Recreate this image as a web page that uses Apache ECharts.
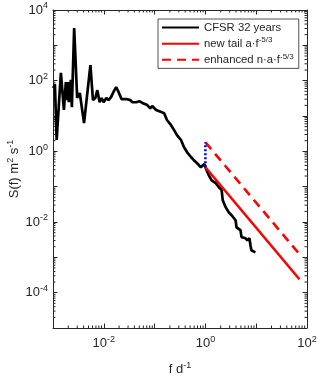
<!DOCTYPE html>
<html>
<head>
<meta charset="utf-8">
<script src="https://cdn.jsdelivr.net/npm/echarts@6/dist/echarts.min.js"></script>
<style>
  html, body { margin: 0; padding: 0; background: #fff; }
  #spec { width: 320px; height: 376px; }
</style>
</head>
<body>
<div id="spec"></div>
<script>
// CFSR spectrum (f in 1/day, S in m^2 s^-1)
var cfsrF = [0.00101, 0.00109, 0.00118, 0.00143, 0.00164, 0.00179, 0.00188, 0.00196, 0.00205, 0.00225,
    0.00235, 0.00261, 0.00299, 0.00337, 0.00408, 0.00545, 0.00612, 0.00682, 0.00746, 0.00828,
    0.00906, 0.00991, 0.0112, 0.0124, 0.0140, 0.0155, 0.0175, 0.0195, 0.0223, 0.0279,
    0.0333, 0.0365, 0.0438, 0.0500, 0.0573, 0.0716, 0.0820, 0.0897, 0.107, 0.135,
    0.154, 0.176, 0.211, 0.242, 0.276, 0.331, 0.378, 0.434, 0.519, 0.593,
    0.679, 0.813, 0.889, 0.953, 1.02, 1.16, 1.33, 1.60, 1.83, 2.09,
    2.19, 2.50, 2.86, 3.28, 3.93, 4.10, 4.91, 5.14, 6.15, 6.73,
    7.36, 7.71, 8.05, 9.64];
var cfsrS = [61.7, 79.4, 2.09, 166, 14.8, 91.2, 28.2, 91.2, 24.5, 105,
    17.8, 3090, 32.4, 44.7, 6.31, 275, 28.2, 32.4, 53.7, 24.5,
    32.4, 24.5, 32.4, 28.2, 34.7, 47.9, 66.1, 47.9, 30.2, 30.2,
    28.2, 24.5, 24.5, 26.3, 23.4, 20.4, 16.6, 19.1, 14.8, 12.9,
    12.0, 7.59, 5.50, 3.98, 2.88, 2.09, 1.32, 0.955, 0.692, 0.562,
    0.468, 0.355, 0.355, 0.437, 0.331, 0.214, 0.151, 0.126, 0.0977, 0.0794,
    0.0417, 0.0263, 0.0191, 0.0155, 0.0112, 0.00708, 0.00589, 0.00372, 0.00347, 0.00302,
    0.00347, 0.00219, 0.00158, 0.00138];

// -5/3 tails, end points
var tailF = [1, 71];
var tailS = [0.355, 0.00024];
var enhancedS = [1.8, 0.00123];
var jumpS = [0.355, 1.8];

var legendNames = ['CFSR 32 years', 'new tail a·f^-5/3', 'enhanced n·a·f^-5/3'];
var xTickExp = [-2, 0, 2];
var yTickExp = [-4, -2, 0, 2, 4];
var xRange = [0.001, 100];
var yRange = [1e-5, 1e4];

function pairs(xs, ys) {
    var out = [];
    for (var i = 0; i < xs.length; i++) {
        out.push([xs[i], ys[i]]);
    }
    return out;
}

// 2..9 times each decade, like matlab's minor ticks
function minorValues(range) {
    var out = [];
    var lo = Math.round(Math.log10(range[0]));
    var hi = Math.round(Math.log10(range[1]));
    for (var e = lo; e < hi; e++) {
        for (var m = 2; m <= 9; m++) {
            out.push(m * Math.pow(10, e));
        }
    }
    return out;
}

// 10^n as rich text
function powLabel(v, shown) {
    var e = Math.round(Math.log10(v));
    if (shown.indexOf(e) < 0) return '';
    return '{b|10}{s|' + e + '}';
}

var ink = '#262626';
var font = 'Liberation Sans';
function richFor(size, supSize, lift) {
    return {
        b: {fontFamily: font, fontSize: size, color: ink},
        s: {fontFamily: font, fontSize: supSize, color: ink, verticalAlign: 'bottom', padding: [0, 0, lift, 0]}
    };
}

function logAxis(pos, range, shown) {
    return {
        type: 'log',
        logBase: 10,
        position: pos,
        min: range[0],
        max: range[1],
        interval: 1,
        axisLine: {show: true, onZero: false, lineStyle: {color: ink, width: 1}},
        axisTick: {show: true, inside: true, length: 4.5, lineStyle: {color: ink}},
        minorTick: {show: false},
        splitLine: {show: false},
        minorSplitLine: {show: false},
        axisLabel: {
            show: shown !== null,
            margin: 5,
            formatter: function (v) { return powLabel(v, shown || []); },
            rich: richFor(13, 9, 8)
        }
    };
}

var chart = echarts.init(document.getElementById('spec'));

var xBottom = logAxis('bottom', xRange, xTickExp);
xBottom.name = 'f d{s|-1}';
xBottom.nameLocation = 'middle';
xBottom.nameGap = 33;
xBottom.nameMoveOverlap = false;
xBottom.nameTextStyle = {fontFamily: font, fontSize: 13, color: ink, rich: richFor(13, 9, 8)};
xBottom.axisLabel.margin = 7;

var yLeft = logAxis('left', yRange, yTickExp);
yLeft.name = 'S(f) m{s|2} s{s|-1}';
yLeft.nameLocation = 'middle';
yLeft.nameGap = 30;
yLeft.nameMoveOverlap = false;
yLeft.nameTextStyle = {fontFamily: font, fontSize: 13, color: ink, rich: richFor(13, 9, 8)};

// minor ticks on all four sides
function minorTickItem(params, api) {
    var isX = api.value(1) === 0;
    var v = api.value(0);
    var a, b, d = 2.5;
    if (isX) {
        a = api.coord([v, yRange[0]]);
        b = api.coord([v, yRange[1]]);
        return {type: 'group', children: [
            {type: 'line', shape: {x1: a[0], y1: a[1], x2: a[0], y2: a[1] - d}, style: {stroke: ink, lineWidth: 1}},
            {type: 'line', shape: {x1: b[0], y1: b[1], x2: b[0], y2: b[1] + d}, style: {stroke: ink, lineWidth: 1}}
        ]};
    }
    a = api.coord([xRange[0], v]);
    b = api.coord([xRange[1], v]);
    return {type: 'group', children: [
        {type: 'line', shape: {x1: a[0], y1: a[1], x2: a[0] + d, y2: a[1]}, style: {stroke: ink, lineWidth: 1}},
        {type: 'line', shape: {x1: b[0], y1: b[1], x2: b[0] - d, y2: b[1]}, style: {stroke: ink, lineWidth: 1}}
    ]};
}

var minorData = [];
minorValues(xRange).forEach(function (v) { minorData.push([v, 0]); });
minorValues(yRange).forEach(function (v) { minorData.push([v, 1]); });

var option = {
    animation: false,
    grid: {left: 53, top: 10, right: 13, bottom: 48, containLabel: false, outerBoundsMode: 'none'},
    legend: {
        orient: 'vertical',
        left: 158,
        top: 19,
        data: legendNames,
        itemWidth: 37,
        itemHeight: 14,
        itemGap: 3,
        padding: [3, 5, 3, 3],
        borderColor: ink,
        borderWidth: 0.8,
        backgroundColor: '#fff',
        itemStyle: {opacity: 0},
        textStyle: {fontFamily: font, fontSize: 11.3, color: ink, rich: richFor(11.3, 8, 7)},
        formatter: function (name) {
            var parts = name.split('^');
            if (parts.length < 2) return '{b|' + name + '}';
            return '{b|' + parts[0] + '}{s|' + parts[1] + '}';
        }
    },
    xAxis: [xBottom, logAxis('top', xRange, null)],
    yAxis: [yLeft, logAxis('right', yRange, null)],
    series: [
        {
            name: 'minor',
            type: 'custom',
            silent: true,
            clip: false,
            data: minorData,
            renderItem: function (params, api) { return minorTickItem(params, api); },
            encode: {x: -1, y: -1}
        },
        {
            name: legendNames[0],
            type: 'line',
            data: pairs(cfsrF, cfsrS),
            symbol: 'none',
            lineStyle: {color: '#000', width: 2.7},
            itemStyle: {color: '#000'}
        },
        {
            name: legendNames[1],
            type: 'line',
            data: pairs(tailF, tailS),
            symbol: 'none',
            lineStyle: {color: '#ff0000', width: 2.6},
            itemStyle: {color: '#ff0000'}
        },
        {
            name: legendNames[2],
            type: 'line',
            data: pairs(tailF, enhancedS),
            symbol: 'none',
            lineStyle: {color: '#ff0000', width: 2.6, type: [9, 6]},
            itemStyle: {color: '#ff0000'}
        },
        {
            name: 'jump',
            type: 'line',
            data: pairs([tailF[0], tailF[0]], jumpS),
            symbol: 'none',
            lineStyle: {color: '#0000ff', width: 2.6, type: [2, 2]},
            itemStyle: {color: '#0000ff'}
        }
    ]
};

chart.setOption(option);
</script>
</body>
</html>
